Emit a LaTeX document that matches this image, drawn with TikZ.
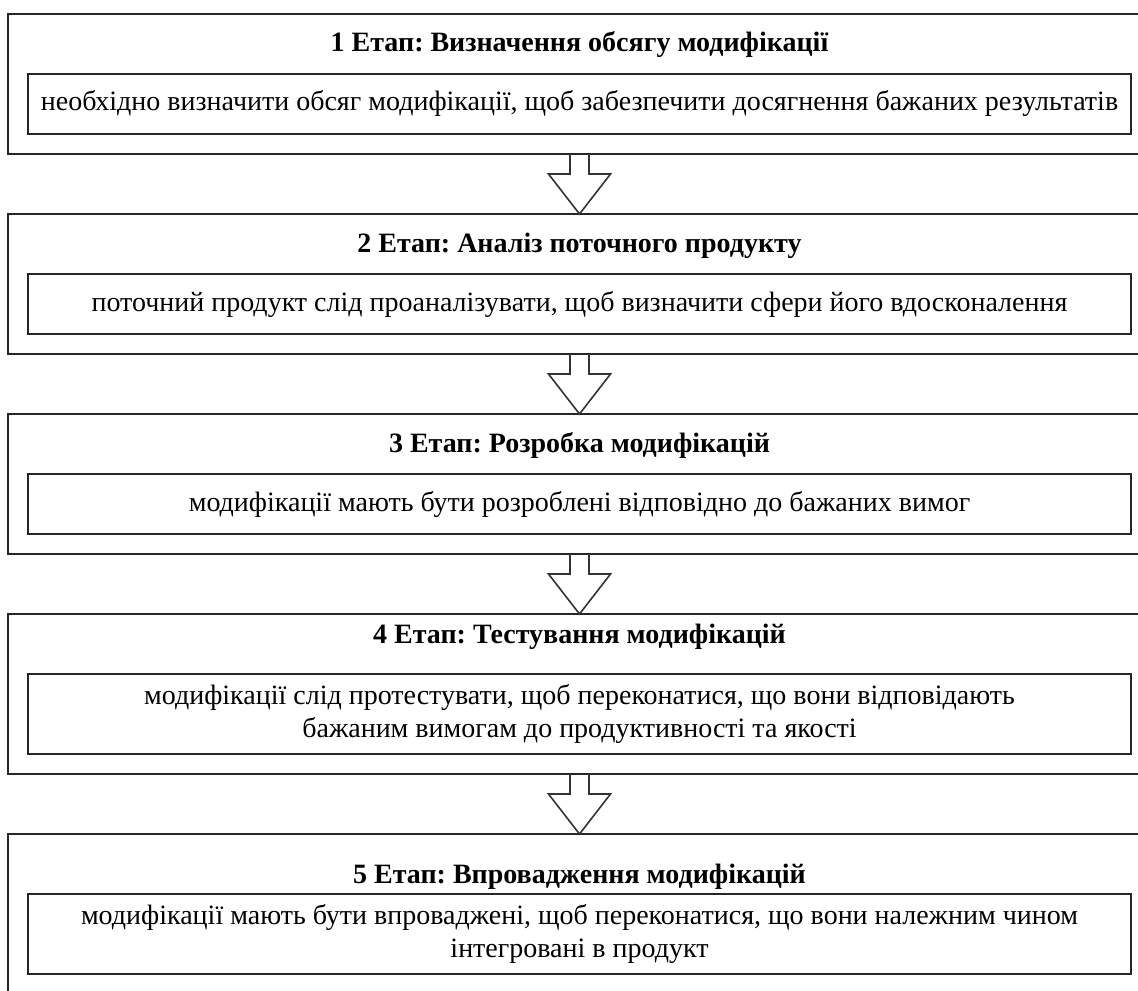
\documentclass[tikz,border=0pt]{standalone}
\usepackage{fontspec}
\setmainfont{Liberation Serif}
\usetikzlibrary{positioning,calc}
\frenchspacing

\newcommand{\stagefont}{\fontsize{14}{16.5}\selectfont}

\tikzset{
    stagebox/.style={draw=black!85, line width=1pt, minimum width=571.5pt, inner sep=0pt, outer sep=0pt, anchor=north west},
    descbox/.style={draw=black!85, line width=1pt, minimum width=551.5pt, inner sep=0pt, outer sep=0pt, align=center, font=\stagefont},
    stagetitle/.style={anchor=base, inner sep=0pt, font=\stagefont\bfseries},
    blockarrow/.style={draw=black!80, line width=0.8pt, line join=miter}
}

\begin{document}
\begin{tikzpicture}[x=0.5pt, y=-0.5pt]
    \useasboundingbox (0,0) rectangle (1138,990);
    \clip (0,0) rectangle (1138,990);

    % outer stage boxes
    \node[stagebox, minimum height=70pt] (stage1) at (8,14) {};
    \node[stagebox, minimum height=70pt, below=30pt of stage1] (stage2) {};
    \node[stagebox, minimum height=70pt, below=30pt of stage2] (stage3) {};
    \node[stagebox, minimum height=80pt, below=30pt of stage3] (stage4) {};
    \node[stagebox, minimum height=90pt, below=30pt of stage4] (stage5) {};

    % titles
    \node[stagetitle] (title1) at ($(stage1.north)+(0,38)$) {1 Етап: Визначення обсягу модифікації};
    \node[stagetitle] (title2) at ($(stage2.north)+(0,38)$) {2 Етап: Аналіз поточного продукту};
    \node[stagetitle] (title3) at ($(stage3.north)+(0,38)$) {3 Етап: Розробка модифікацій};
    \node[stagetitle] (title4) at ($(stage4.north)+(0,29)$) {4 Етап: Тестування модифікацій};
    \node[stagetitle] (title5) at ($(stage5.north)+(0,49)$) {5 Етап: Впровадження модифікацій};

    % descriptions
    \node[descbox, minimum height=30pt, below=30pt of stage1.north] (desc1) {необхідно визначити обсяг модифікації, щоб забезпечити досягнення бажаних результатів};
    \node[descbox, minimum height=30pt, below=30pt of stage2.north] (desc2) {поточний продукт слід проаналізувати, щоб визначити сфери його вдосконалення};
    \node[descbox, minimum height=30pt, below=30pt of stage3.north] (desc3) {модифікації мають бути розроблені відповідно до бажаних вимог};
    \node[descbox, minimum height=40pt, below=30pt of stage4.north] (desc4) {модифікації слід протестувати, щоб переконатися, що вони відповідають\\бажаним вимогам до продуктивності та якості};
    \node[descbox, minimum height=40pt, below=30pt of stage5.north] (desc5) {модифікації мають бути впроваджені, щоб переконатися, що вони належним чином\\інтегровані в продукт};

    % block arrows between stages
    \foreach \a/\b in {1/2, 2/3, 3/4, 4/5} {
        \draw[blockarrow] ($(stage\a.south)+(-9.5,0)$) -- ++(0,20) -- ++(-21.5,0)
            -- (stage\b.north) -- ($(stage\a.south)+(31,20)$) -- ++(-21.5,0) -- ++(0,-20);
    }
\end{tikzpicture}
\end{document}
